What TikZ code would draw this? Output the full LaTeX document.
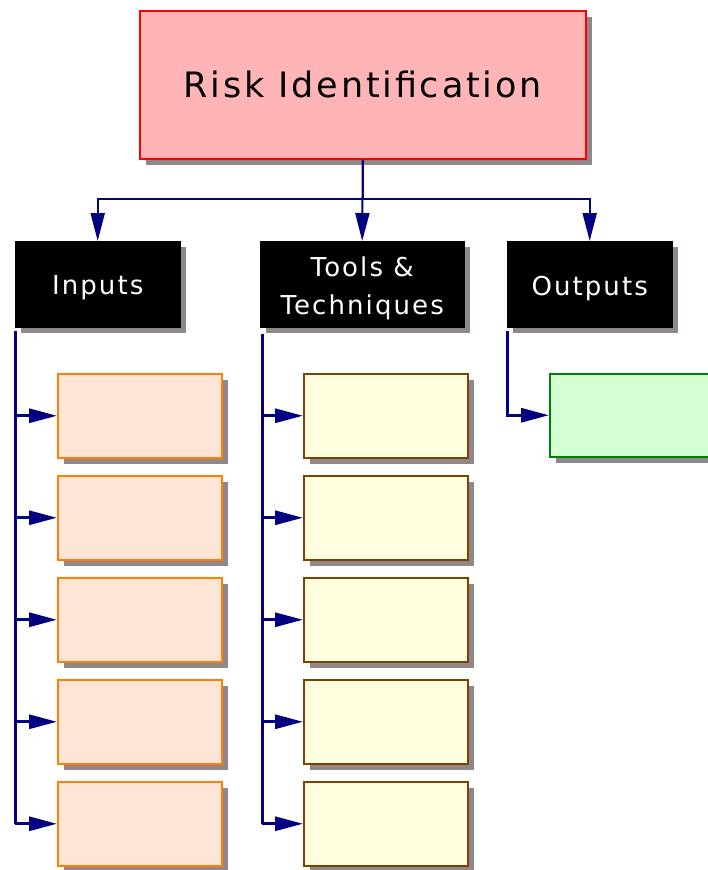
\documentclass[tikz,border=0pt]{standalone}
\usepackage{fontspec}
\setmainfont{DejaVu Sans}[LetterSpace=8]
\usetikzlibrary{arrows.meta,shadows}
\definecolor{navyc}{HTML}{000080}
\definecolor{shadowc}{HTML}{908888}
\definecolor{topfill}{HTML}{FFB5B5}
\definecolor{infill}{HTML}{FFE4D8}
\definecolor{inborder}{HTML}{FF8000}
\definecolor{toolfill}{HTML}{FFFFE0}
\definecolor{toolborder}{HTML}{804000}
\definecolor{outfill}{HTML}{D4FFD4}
\definecolor{outborder}{HTML}{008000}
\tikzset{
  shad/.style={drop shadow={shadow xshift=6pt,shadow yshift=-6pt,fill=shadowc,opacity=1}},
  topbox/.style={shad,draw=red,fill=topfill,line width=1.5pt,anchor=north west,
    minimum width=446pt,minimum height=148pt,inner sep=0pt,font=\fontsize{35}{42}\selectfont},
  headbox/.style={shad,fill=black,draw=black,anchor=north west,
    minimum height=86pt,inner sep=0pt},
  headtext/.style={text=white,align=center,inner sep=0pt,font=\fontsize{26}{38}\selectfont},
  inbox/.style={shad,draw=inborder,fill=infill,line width=1.5pt,anchor=north west,
    minimum width=164pt,minimum height=84pt,inner sep=0pt},
  toolbox/.style={shad,draw=toolborder,fill=toolfill,line width=1.5pt,anchor=north west,
    minimum width=164pt,minimum height=84pt,inner sep=0pt},
  outbox/.style={shad,draw=outborder,fill=outfill,line width=1.5pt,anchor=north west,
    minimum width=190pt,minimum height=83pt,inner sep=0pt},
  conn/.style={draw=navyc,line width=2pt,-{Triangle[length=28pt,width=14pt]}},
  branch/.style={draw=navyc,line width=3pt},
  barrow/.style={draw=navyc,line width=3pt,-{Triangle[length=28pt,width=14pt]}},
}
\begin{document}
\begin{tikzpicture}[x=1pt,y=-1pt]
\useasboundingbox (0,0) rectangle (707,870);
\node[topbox] (risk) at (139,10) {Risk Identification};
\node[headbox,minimum width=165pt] (inputs) at (15,241) {};
\node[headbox,minimum width=204pt] (tools) at (260,241) {};
\node[headbox,minimum width=165pt] (outputs) at (507,241) {};
\node[headtext] (inputsT) at ([yshift=-4pt]inputs.center) {Inputs};
\node[headtext] (toolsT) at ([yshift=-4pt]tools.center) {Tools \&\\Techniques};
\node[headtext] (outputsT) at ([yshift=-4pt]outputs.center) {Outputs};
\coordinate (bus) at (0,199);
\draw[conn] (risk.south) -- (risk.south |- bus) -| (inputs.north);
\draw[conn] (risk.south) -- (tools.north);
\draw[conn] (risk.south) -- (risk.south |- bus) -| (outputs.north);
\foreach \i/\y in {1/373,2/475,3/577,4/679,5/781}{
  \node[inbox] (in\i) at (57,\y) {};
  \node[toolbox] (tl\i) at (303,\y) {};
}
\node[outbox] (out1) at (549,373) {};
\coordinate (inTop) at (15,331);
\coordinate (tlTop) at (262,334);
\coordinate (outTop) at (507,331);
\draw[branch] (inTop) -- (inTop |- in5.west);
\draw[branch] (tlTop) -- (tlTop |- tl5.west);
\foreach \i in {1,...,5}{
  \draw[barrow] (inTop |- in\i.west) -- (in\i.west);
  \draw[barrow] (tlTop |- tl\i.west) -- (tl\i.west);
}
\draw[barrow] (outTop) |- (out1.west);
\end{tikzpicture}
\end{document}
